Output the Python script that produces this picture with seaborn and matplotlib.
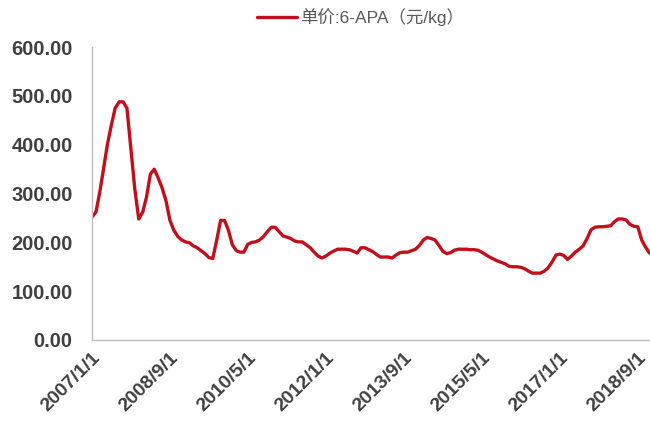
import pandas as pd
import seaborn as sns
import matplotlib.pyplot as plt

# monthly 6-APA price (yuan/kg), starting 2007/1
price = [252, 262, 300, 350, 400, 440, 475, 488, 488, 475,
         390, 310, 248, 262, 292, 340, 350, 332, 312, 285,
         245, 225, 212, 205, 201, 199, 193, 189, 183, 177,
         169, 167, 205, 245, 245, 225, 195, 183, 180, 180,
         196, 200, 201, 205, 212, 222, 231, 231, 222, 213,
         211, 208, 203, 201, 201, 195, 189, 180, 172, 168,
         172, 178, 182, 186, 186, 186, 185, 182, 178, 189,
         189, 185, 181, 175, 170, 170, 170, 168, 174, 179,
         180, 180, 183, 186, 194, 205, 210, 208, 205, 194,
         182, 177, 179, 184, 186, 186, 186, 185, 185, 184,
         180, 175, 170, 166, 162, 159, 156, 151, 150, 150,
         149, 146, 141, 137, 137, 137, 141, 148, 160, 174,
         176, 173, 165, 172, 180, 186, 193, 208, 226, 231,
         232, 232, 233, 234, 242, 248, 248, 246, 237, 233,
         232, 205, 190, 178]
tick_labels = ["2007/1/1", "2008/9/1", "2010/5/1", "2012/1/1",
               "2013/9/1", "2015/5/1", "2017/1/1", "2018/9/1"]
y_ticks = [0, 100, 200, 300, 400, 500, 600]
series_name = "单价:6-APA（元/kg）"

df = pd.DataFrame({
    "date": pd.date_range("2007-01-01", periods=len(price), freq="MS"),
    "price": price,
})

sns.set_theme(style="white")
plt.rcParams['font.family'] = ['Liberation Sans', 'Noto Sans CJK SC', 'DejaVu Sans']

fig = plt.figure(figsize=(6.5, 4.29), dpi=100)
ax = fig.add_axes([0.1415, 0.2075, 0.8585, 0.6825])

sns.lineplot(data=df, x="date", y="price", color="#C0101C", linewidth=2.4,
             label=series_name, ax=ax)

ax.set_xlim(pd.Timestamp("2007-01-01"), pd.Timestamp("2018-12-05"))
ax.set_ylim(0, 600)
ax.set_yticks(y_ticks)
ax.set_yticklabels([f"{v:.2f}" for v in y_ticks], fontsize=14.5,
                   fontweight="bold", color="#404040")
ax.set_xticks(pd.to_datetime(tick_labels, format="%Y/%m/%d"))
ax.set_xticklabels(tick_labels, rotation=45, ha="right", rotation_mode="anchor",
                   fontsize=14, fontweight="bold", color="#404040")
ax.set_xlabel("")
ax.set_ylabel("")

for side in ["top", "right"]:
    ax.spines[side].set_visible(False)
for side in ["left", "bottom"]:
    ax.spines[side].set_color("#BFBFBF")
    ax.spines[side].set_linewidth(1.0)
ax.tick_params(axis="y", direction="out", length=4, color="#BFBFBF", pad=10)
ax.tick_params(axis="x", direction="inout", length=6, color="#BFBFBF", pad=4)

ax.legend(loc="upper center", bbox_to_anchor=(0.555, 1.005),
          bbox_transform=fig.transFigure, frameon=False, handlelength=2.3,
          handletextpad=0.2, fontsize=12.5, labelcolor="#595959",
          borderaxespad=0.2)

fig.savefig("out.png", dpi=100)
